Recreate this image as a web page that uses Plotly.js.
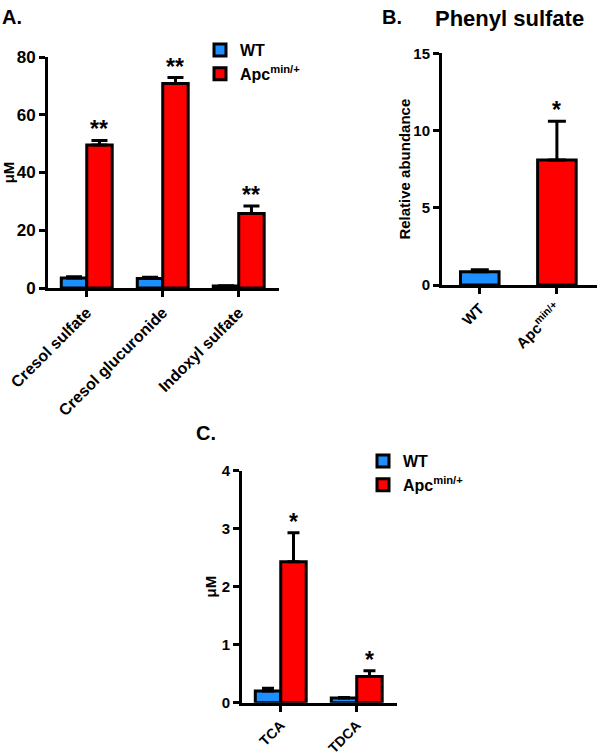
<!DOCTYPE html>
<html>
<head>
<meta charset="utf-8">
<script src="https://cdn.plot.ly/plotly-3.0.1.min.js"></script>
<style>
  html, body { margin: 0; padding: 0; background: white; }
  #chart { width: 600px; height: 755px; }
</style>
</head>
<body>
<div id="chart"></div>
<script>
// Panel A - uremic toxins
const catA = ['Cresol sulfate', 'Cresol glucuronide', 'Indoxyl sulfate'];
const wtA = [3.5, 3.3, 0.7];
const wtAErr = [0.4, 0.4, 0.1];
const apcA = [49.5, 70.8, 25.8];
const apcAErr = [1.6, 2.1, 2.6];
const sigA = ['**', '**', '**'];

// Panel B - phenyl sulfate
const catB = ['WT', 'Apc<sup>min/+</sup>'];
const valB = [0.86, 8.1];
const errB = [0.12, 2.5];
const sigB = ['', '*'];

// Panel C - bile acids
const catC = ['TCA', 'TDCA'];
const wtC = [0.2, 0.08];
const wtCErr = [0.05, 0.01];
const apcC = [2.43, 0.45];
const apcCErr = [0.5, 0.1];
const sigC = ['*', '*'];

const FONT = 'Liberation Sans, Arial, sans-serif';
const BLUE = '#1e8fff';
const RED = '#ff0000';
const W = 600, H = 755;
const BARGAP = 0.33;

function upErr(arr, w) {
    return {
        type: 'data', array: arr, arrayminus: arr.map(() => 0), symmetric: false,
        color: 'black', thickness: 3, width: w
    };
}

function barTrace(x, y, err, name, color, xa, ya, legend, showlegend, capw) {
    return {
        type: 'bar', x: x, y: y, name: name, xaxis: xa, yaxis: ya,
        legend: legend, showlegend: showlegend,
        marker: { color: color, line: { color: 'black', width: 3 } },
        error_y: upErr(err, capw),
        hoverinfo: 'skip'
    };
}

const traces = [
    barTrace(catA, wtA, wtAErr, 'WT', BLUE, 'x', 'y', 'legend', true, 8),
    barTrace(catA, apcA, apcAErr, 'Apc<sup>min/+</sup>', RED, 'x', 'y', 'legend', true, 8),
    Object.assign(barTrace(catB, valB, errB, 'B', [BLUE, RED], 'x2', 'y2', 'legend', false, 9), { width: 0.5 }),
    barTrace(catC, wtC, wtCErr, 'WT', BLUE, 'x3', 'y3', 'legend2', true, 6),
    barTrace(catC, apcC, apcCErr, 'Apc<sup>min/+</sup>', RED, 'x3', 'y3', 'legend2', true, 6)
];

const bold = size => ({ family: FONT, size: size, weight: 'bold', color: 'black' });
function axis(extra, fs) {
    return Object.assign({
        showline: true, linecolor: 'black', linewidth: 3,
        ticks: 'outside', ticklen: 6, tickwidth: 3, tickcolor: 'black',
        showgrid: false, zeroline: false, tickfont: bold(fs), fixedrange: true
    }, extra);
}

// panel boxes in pixels
const boxA = { x0: 48, x1: 279, y0: 288, y1: 57, xr: [-0.51, 2.53] };
const boxB = { x0: 442, x1: 597, y0: 285, y1: 53.3, xr: [-0.49, 1.52] };
const boxC = { x0: 242, x1: 397, y0: 702.7, y1: 470.7, xr: [-0.51, 1.53] };
const dx = b => [b.x0 / W, b.x1 / W];
const dy = b => [1 - b.y0 / H, 1 - b.y1 / H];

const layout = {
    width: W, height: H,
    margin: { l: 0, r: 0, t: 0, b: 0 },
    paper_bgcolor: 'white', plot_bgcolor: 'white',
    barmode: 'group', bargap: BARGAP, bargroupgap: 0,
    font: { family: FONT, color: 'black' },
    xaxis: axis({ domain: dx(boxA), anchor: 'y', type: 'category', range: boxA.xr, tickangle: -45 }, 16),
    yaxis: axis({ domain: dy(boxA), anchor: 'x', range: [0, 80], tickvals: [0, 20, 40, 60, 80],
        title: { text: 'μM', font: bold(15), standoff: 0 } }, 17),
    xaxis2: axis({ domain: dx(boxB), anchor: 'y2', type: 'category', range: boxB.xr, tickangle: -45 }, 15),
    yaxis2: axis({ domain: dy(boxB), anchor: 'x2', range: [0, 15], tickvals: [0, 5, 10, 15],
        title: { text: 'Relative abundance', font: bold(15), standoff: 0 } }, 15),
    xaxis3: axis({ domain: dx(boxC), anchor: 'y3', type: 'category', range: boxC.xr, tickangle: -45 }, 14),
    yaxis3: axis({ domain: dy(boxC), anchor: 'x3', range: [0, 4], tickvals: [0, 1, 2, 3, 4],
        title: { text: 'μM', font: bold(15), standoff: 2 } }, 15),
    legend: {
        x: 200 / W, y: 1 - 33 / H, xanchor: 'left', yanchor: 'top',
        font: bold(16), bgcolor: 'rgba(0,0,0,0)', tracegroupgap: 0
    },
    legend2: {
        x: 363 / W, y: 1 - 444 / H, xanchor: 'left', yanchor: 'top',
        font: bold(16), bgcolor: 'rgba(0,0,0,0)', tracegroupgap: 0
    },
    annotations: []
};

// panel labels
layout.annotations.push(
    { text: 'A.', xref: 'paper', yref: 'paper', x: 0, y: 1 - 4 / H, xanchor: 'left', yanchor: 'top', showarrow: false, font: bold(20) },
    { text: 'B.', xref: 'paper', yref: 'paper', x: 380 / W, y: 1 - 4 / H, xanchor: 'left', yanchor: 'top', showarrow: false, font: bold(20) },
    { text: 'Phenyl sulfate', xref: 'paper', yref: 'paper', x: 433 / W, y: 1 - 4 / H, xanchor: 'left', yanchor: 'top', showarrow: false, font: bold(22) },
    { text: 'C.', xref: 'paper', yref: 'paper', x: 194 / W, y: 1 - 420 / H, xanchor: 'left', yanchor: 'top', showarrow: false, font: bold(20) }
);

// significance stars above the error bars
function stars(cats, vals, errs, sig, xa, ya, box, shiftFrac) {
    const stepPx = (box.x1 - box.x0) / (box.xr[1] - box.xr[0]);
    cats.forEach((c, i) => {
        if (!sig[i]) return;
        layout.annotations.push({
            text: sig[i], x: c, y: vals[i] + errs[i], xref: xa, yref: ya,
            xshift: shiftFrac * stepPx, yshift: -4, yanchor: 'bottom',
            showarrow: false, font: bold(23)
        });
    });
}
stars(catA, apcA, apcAErr, sigA, 'x', 'y', boxA, (1 - BARGAP) / 4);
stars(catB, valB, errB, sigB, 'x2', 'y2', boxB, 0);
stars(catC, apcC, apcCErr, sigC, 'x3', 'y3', boxC, (1 - BARGAP) / 4);

Plotly.newPlot('chart', traces, layout, { displayModeBar: false, staticPlot: true });
</script>
</body>
</html>
